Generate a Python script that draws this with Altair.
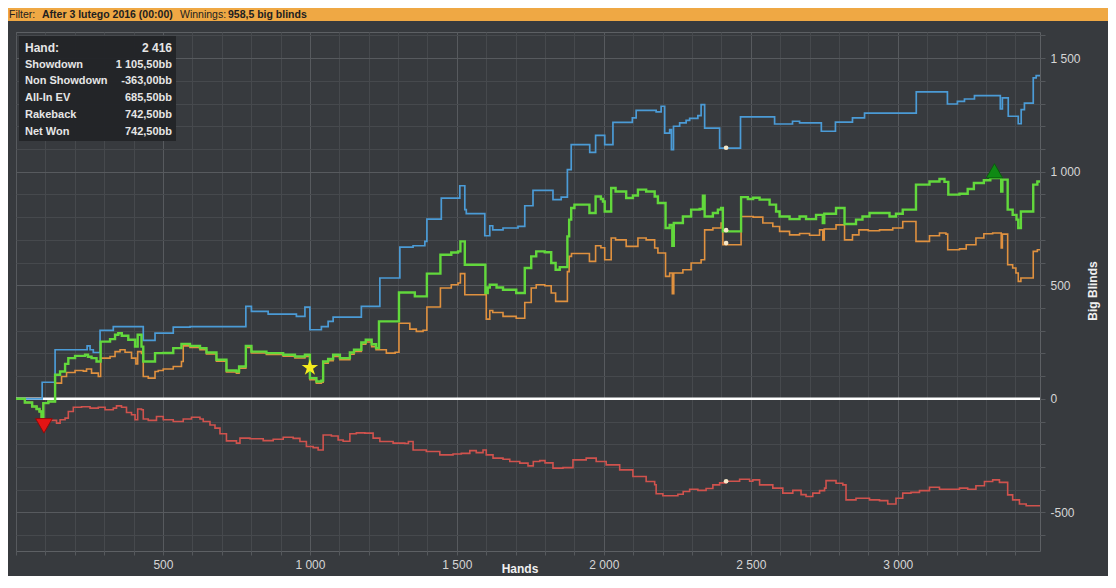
import altair as alt
import pandas as pd

# ---------------- data (hand number, big blinds) ----------------
blue_showdown = [
    (0, 0), (89, 73), (133, 216), (242, 233), (252, 216), (263, 204), (286, 301), (331, 318),
    (433, 257), (473, 289), (535, 316), (592, 318), (782, 407), (801, 385), (858, 373), (954, 363),
    (983, 404), (1000, 304), (1039, 318), (1062, 341), (1079, 360), (1175, 407), (1238, 532),
    (1306, 668), (1351, 674), (1391, 693), (1398, 791), (1447, 884), (1510, 938), (1527, 833),
    (1532, 815), (1595, 718), (1612, 762), (1622, 744), (1657, 752), (1708, 759), (1731, 850),
    (1759, 918), (1827, 877), (1855, 888), (1876, 1009), (1889, 1119), (1952, 1085), (1972, 1160),
    (2003, 1119), (2031, 1217), (2097, 1237), (2110, 1270), (2178, 1263), (2195, 1288), (2207, 1170),
    (2224, 1185), (2230, 1097), (2237, 1200), (2258, 1215), (2280, 1226), (2292, 1235), (2320, 1247),
    (2331, 1295), (2343, 1192), (2394, 1104), (2465, 1241), (2581, 1210), (2642, 1222), (2666, 1215),
    (2740, 1178), (2788, 1218), (2846, 1237), (2887, 1258), (3063, 1351), (3169, 1298), (3203, 1310),
    (3227, 1320), (3261, 1335), (3349, 1276), (3356, 1325), (3376, 1244), (3410, 1211), (3420, 1273),
    (3431, 1302), (3461, 1413), (3471, 1423), (3484, 1423),
]

green_net_won = [
    (0, 0), (30, -16), (55, -34), (70, -45), (80, -56), (87, -95), (93, -19), (110, -12), (133, 106),
    (150, 120), (167, 154), (178, 179), (201, 189), (235, 194), (245, 185), (257, 179), (274, 164),
    (288, 252), (320, 263), (337, 282), (348, 289), (360, 278), (382, 260), (405, 230), (414, 282),
    (427, 230), (433, 164), (473, 201), (501, 202), (535, 223), (563, 242), (592, 233), (626, 223),
    (648, 204), (682, 172), (716, 125), (750, 120), (759, 142), (782, 233), (801, 208), (852, 201),
    (909, 194), (949, 186), (983, 194), (1000, 91), (1022, 76), (1039, 80), (1045, 164), (1062, 175),
    (1079, 194), (1102, 179), (1136, 204), (1150, 216), (1175, 248), (1190, 260), (1210, 240),
    (1225, 223), (1235, 341), (1303, 468), (1357, 451), (1398, 551), (1444, 634), (1481, 644),
    (1504, 649), (1512, 693), (1527, 590), (1597, 466), (1605, 490), (1612, 502), (1635, 490),
    (1657, 480), (1702, 466), (1731, 576), (1753, 627), (1770, 649), (1799, 645), (1821, 598),
    (1836, 568), (1850, 580), (1876, 715), (1882, 789), (1889, 840), (1900, 855), (1951, 818),
    (1972, 891), (1990, 880), (1997, 869), (2003, 825), (2025, 928), (2040, 913), (2076, 884),
    (2099, 895), (2116, 921), (2144, 913), (2173, 891), (2184, 862), (2210, 752), (2224, 766),
    (2233, 674), (2238, 774), (2269, 803), (2297, 833), (2326, 836), (2337, 894), (2343, 803),
    (2371, 818), (2388, 833), (2399, 840), (2405, 737), (2467, 888), (2490, 880), (2508, 885),
    (2530, 877), (2564, 855), (2586, 825), (2598, 803), (2632, 791), (2666, 803), (2688, 791),
    (2722, 810), (2745, 774), (2750, 815), (2790, 840), (2819, 770), (2858, 789), (2880, 803),
    (2904, 818), (2938, 818), (2972, 803), (2994, 815), (3017, 833), (3062, 943), (3108, 957),
    (3142, 968), (3159, 955), (3172, 899), (3210, 903), (3238, 924), (3259, 950), (3293, 962),
    (3315, 972), (3352, 913), (3356, 965), (3374, 833), (3391, 810), (3404, 789), (3410, 752),
    (3419, 825), (3461, 943), (3475, 957), (3484, 957),
]

orange_allin_ev = [
    (0, 0), (30, -16), (55, -34), (70, -45), (80, -56), (87, -95), (93, -19), (110, -12), (133, 69),
    (155, 98), (172, 116), (201, 125), (229, 122), (240, 131), (257, 113), (280, 98), (288, 179),
    (320, 186), (337, 208), (354, 216), (371, 205), (393, 179), (408, 154), (414, 208), (427, 200),
    (433, 98), (450, 91), (473, 120), (484, 125), (501, 131), (535, 142), (563, 164), (569, 233),
    (592, 226), (626, 216), (648, 198), (682, 166), (716, 118), (750, 113), (759, 135), (782, 226),
    (801, 202), (852, 195), (909, 188), (949, 180), (983, 187), (1000, 84), (1022, 69), (1039, 73),
    (1045, 157), (1062, 168), (1079, 187), (1102, 172), (1136, 197), (1150, 209), (1175, 241),
    (1190, 250), (1210, 230), (1225, 216), (1260, 201), (1290, 205), (1303, 333), (1340, 307),
    (1362, 297), (1385, 302), (1398, 404), (1444, 488), (1481, 502), (1504, 510), (1512, 551),
    (1527, 458), (1600, 351), (1612, 389), (1622, 380), (1657, 363), (1702, 355), (1731, 424),
    (1753, 488), (1770, 502), (1799, 498), (1821, 466), (1836, 429), (1876, 560), (1882, 627),
    (1890, 640), (1951, 605), (1972, 674), (1990, 665), (2003, 612), (2025, 708), (2040, 700),
    (2076, 671), (2116, 708), (2144, 700), (2173, 664), (2184, 642), (2210, 539), (2224, 554),
    (2233, 463), (2238, 554), (2269, 568), (2297, 598), (2331, 612), (2343, 744), (2371, 752),
    (2399, 774), (2405, 678), (2467, 803), (2508, 800), (2541, 774), (2575, 759), (2598, 737),
    (2632, 722), (2666, 728), (2700, 720), (2734, 744), (2745, 700), (2750, 748), (2790, 766),
    (2819, 700), (2846, 722), (2868, 744), (2900, 740), (2938, 744), (2983, 752), (3017, 781),
    (3062, 693), (3108, 718), (3142, 730), (3164, 725), (3170, 656), (3210, 660), (3233, 678),
    (3266, 708), (3293, 727), (3323, 730), (3352, 664), (3356, 725), (3374, 590), (3391, 576),
    (3402, 554), (3410, 517), (3419, 532), (3461, 649), (3475, 656), (3484, 656),
]

red_non_showdown = [
    (0, 0), (30, -16), (55, -34), (70, -45), (80, -56), (87, -95), (138, -107), (150, -92),
    (167, -85), (178, -56), (195, -37), (223, -35), (252, -41), (280, -37), (303, -48), (331, -41),
    (342, -31), (359, -37), (376, -60), (393, -70), (405, -92), (414, -45), (427, -48), (433, -89),
    (450, -95), (478, -78), (501, -92), (535, -100), (569, -89), (597, -81), (626, -89), (637, -100),
    (660, -115), (677, -129), (694, -154), (716, -185), (750, -195), (762, -173), (796, -176),
    (841, -184), (875, -178), (909, -169), (943, -174), (966, -188), (988, -210), (1011, -215),
    (1028, -225), (1045, -159), (1073, -164), (1096, -181), (1113, -187), (1136, -154), (1158, -150),
    (1187, -151), (1215, -173), (1238, -188), (1283, -195), (1323, -197), (1335, -188), (1351, -225),
    (1396, -232), (1442, -247), (1487, -243), (1515, -240), (1544, -228), (1566, -237), (1589, -225),
    (1600, -247), (1623, -261), (1657, -266), (1680, -276), (1714, -283), (1742, -295), (1760, -276),
    (1782, -272), (1800, -282), (1827, -305), (1861, -303), (1895, -269), (1940, -261), (1974, -276),
    (2008, -291), (2054, -313), (2099, -342), (2144, -364), (2173, -378), (2178, -418), (2201, -427),
    (2252, -420), (2270, -408), (2292, -398), (2320, -403), (2348, -395), (2371, -379), (2394, -370),
    (2416, -363), (2462, -354), (2496, -363), (2507, -357), (2530, -379), (2575, -393), (2609, -415),
    (2643, -403), (2671, -422), (2688, -430), (2711, -415), (2734, -404), (2751, -393), (2756, -360),
    (2790, -372), (2813, -379), (2824, -445), (2858, -438), (2904, -445), (2938, -448), (2966, -463),
    (2994, -438), (3017, -415), (3045, -412), (3074, -404), (3108, -389), (3142, -398), (3176, -398),
    (3210, -393), (3238, -398), (3266, -383), (3295, -364), (3323, -357), (3346, -368), (3374, -423),
    (3391, -445), (3414, -463), (3437, -471), (3484, -474),
]

# current-hand dots (hand 2 416)
hover_hand = [2416, 2416, 2416, 2416]
hover_bb = [1105.5, 742.5, 685.5, -363.0]

# special markers
min_marker = (95, -119)     # red triangle (lowest point)
max_marker = (3329, 1004)   # green triangle (highest point)
star_marker = (1000, 137)   # yellow star

legend_labels = ["Hand:", "Showdown", "Non Showdown", "All-In EV", "Rakeback", "Net Won"]
legend_values = ["2 416", "1 105,50bb", "-363,00bb", "685,50bb", "742,50bb", "742,50bb"]

banner_texts = ["Filter:", "After 3 lutego 2016 (00:00)", "Winnings:", "958,5 big blinds"]

x_ticks = list(range(0, 3484, 100))
y_ticks = list(range(-600, 1601, 100))

# ---------------- styling ----------------
BG = "#373a3e"
FONT = "Liberation Sans"
LABEL_COLOR = "#d6d6d6"
GRID = {"condition": {"test": "datum.value % 500 === 0", "value": "#575a5e"}, "value": "#46494d"}

x_scale = alt.Scale(domain=[0, 3484], nice=False, zero=False)
y_scale = alt.Scale(domain=[-670, 1615], nice=False, zero=False)

x_axis = alt.Axis(
    values=x_ticks, grid=True, gridColor=GRID, gridWidth=1, domain=False,
    ticks=True, tickSize=4, tickColor="#55585c", labelPadding=4,
    labelExpr="datum.value > 0 && datum.value % 500 === 0 ? replace(format(datum.value, ','), ',', ' ') : ''",
    labelFont=FONT, labelFontSize=12, labelColor=LABEL_COLOR, labelOverlap=False, title=None,
)
y_axis = alt.Axis(
    orient="right", values=y_ticks, grid=True, gridColor=GRID, gridWidth=1, domain=False,
    ticks=True, tickSize=5, tickColor="#55585c", labelPadding=5,
    labelExpr="datum.value % 500 === 0 ? (datum.value < 0 ? '-' : '') + replace(format(abs(datum.value), ','), ',', ' ') : ''",
    labelFont=FONT, labelFontSize=12, labelColor=LABEL_COLOR, labelOverlap=False, title=None,
)


def xenc():
    return alt.X("hand:Q", scale=x_scale, axis=x_axis)


def yenc():
    return alt.Y("bb:Q", scale=y_scale, axis=y_axis)


def frame(pairs):
    return pd.DataFrame(pairs, columns=["hand", "bb"])


def line(pairs, color, width):
    return alt.Chart(frame(pairs)).mark_line(
        interpolate="step-after", color=color, strokeWidth=width, clip=True
    ).encode(x=xenc(), y=yenc())


zero_rule = alt.Chart(pd.DataFrame({"bb": [0]})).mark_rule(
    color="white", strokeWidth=2.5
).encode(y=alt.Y("bb:Q", scale=y_scale, axis=y_axis))

blue = line(blue_showdown, "#4b9bd6", 1.7)
red = line(red_non_showdown, "#d0524d", 1.6)
orange = line(orange_allin_ev, "#e0913f", 1.6)
green = line(green_net_won, "#62d83c", 2.4)

dots = alt.Chart(pd.DataFrame({"hand": hover_hand, "bb": hover_bb})).mark_point(
    filled=True, size=22, color="#f6e7c8", opacity=1
).encode(x=xenc(), y=yenc())

tri_down = alt.Chart(frame([min_marker])).mark_point(
    shape="triangle-down", filled=True, size=280, color="#e41414", stroke="#8e0a0a", strokeWidth=1, opacity=1
).encode(x=xenc(), y=yenc())

tri_up = alt.Chart(frame([max_marker])).mark_point(
    shape="triangle-up", filled=True, size=270, color="#0f8a14", stroke="#0a5c0d", strokeWidth=1, opacity=1
).encode(x=xenc(), y=yenc())

STAR = ("M0,-1L0.2245,-0.309L0.951,-0.309L0.363,0.118L0.588,0.809L0,0.382"
        "L-0.588,0.809L-0.363,0.118L-0.951,-0.309L-0.2245,-0.309Z")
star = alt.Chart(frame([star_marker])).mark_point(
    shape=STAR, filled=True, size=300, color="#f5ec1e", opacity=1
).encode(x=xenc(), y=yenc())

# ---------------- decorations (banner, info box, titles) ----------------
one = pd.DataFrame({"k": [0]})

banner = alt.Chart(one).mark_rect(color="#efa844").encode(
    x=alt.value(-8), x2=alt.value(1092), y=alt.value(-24), y2=alt.value(-11)
)
banner_x = [-7, 26, 164, 212]
banner_w = ["normal", "bold", "normal", "bold"]
banner_layers = []
for t, bx, bw in zip(banner_texts, banner_x, banner_w):
    banner_layers.append(
        alt.Chart(pd.DataFrame({"t": [t]})).mark_text(
            align="left", baseline="alphabetic", font=FONT, fontSize=10.5, fontWeight=bw, color="#202020"
        ).encode(x=alt.value(bx), y=alt.value(-14), text="t:N")
    )

info_box = alt.Chart(one).mark_rect(color="#222427", opacity=0.95).encode(
    x=alt.value(3), x2=alt.value(160), y=alt.value(4), y2=alt.value(109)
)
info_layers = []
for i, (lab, val) in enumerate(zip(legend_labels, legend_values)):
    fs = 12 if i == 0 else 11
    yy = 16 + i * 16.7
    info_layers.append(
        alt.Chart(pd.DataFrame({"t": [lab]})).mark_text(
            align="left", baseline="middle", font=FONT, fontSize=fs, fontWeight="bold", color="#e6e6e6"
        ).encode(x=alt.value(9), y=alt.value(yy), text="t:N")
    )
    info_layers.append(
        alt.Chart(pd.DataFrame({"t": [val]})).mark_text(
            align="right", baseline="middle", font=FONT, fontSize=fs, fontWeight="bold", color="#e6e6e6"
        ).encode(x=alt.value(156), y=alt.value(yy), text="t:N")
    )

y_title = alt.Chart(pd.DataFrame({"t": ["Big Blinds"]})).mark_text(
    angle=270, align="center", baseline="middle", font=FONT, fontSize=12, fontWeight="bold", color="#f0f0f0"
).encode(x=alt.value(1077), y=alt.value(259), text="t:N")

x_title = alt.Chart(pd.DataFrame({"t": ["Hands"]})).mark_text(
    align="center", baseline="alphabetic", font=FONT, fontSize=12, fontWeight="bold", color="#f0f0f0"
).encode(x=alt.value(504), y=alt.value(541), text="t:N")

chart = alt.layer(
    zero_rule, blue, red, orange, green, dots, tri_down, tri_up, star,
    info_box, *info_layers, banner, *banner_layers, y_title, x_title,
).properties(
    width=1024, height=519,
    autosize=alt.AutoSizeParams(type="none"),
    padding={"left": 8, "top": 24, "right": 68, "bottom": 25},
    background=BG,
).configure_view(
    stroke="#5d6064", strokeWidth=1, fill=BG
)

chart.save("out.html", embed_options={"renderer": "svg", "actions": False})
